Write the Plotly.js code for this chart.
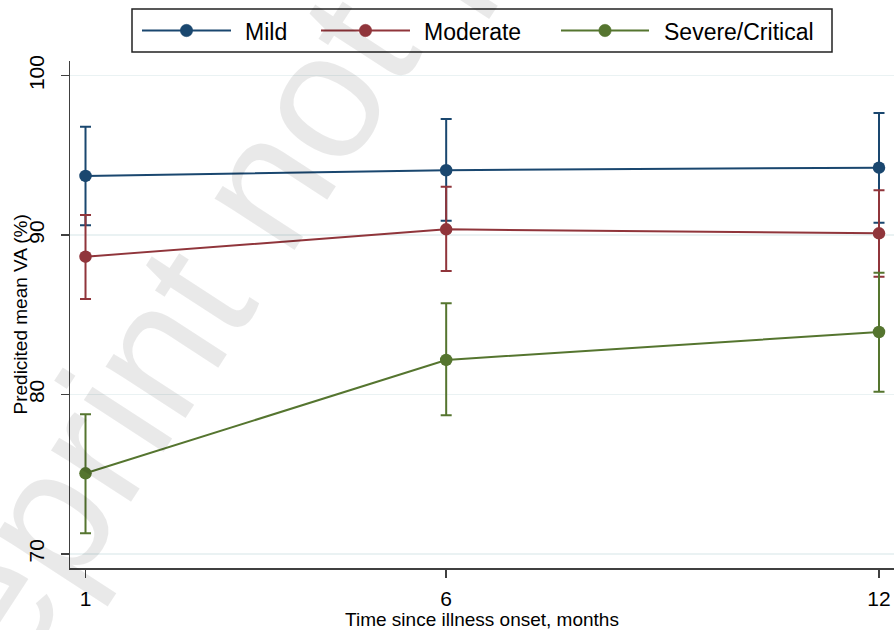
<!DOCTYPE html>
<html>
<head>
<meta charset="utf-8">
<script src="https://cdn.plot.ly/plotly-3.0.1.min.js"></script>
<style>html,body{margin:0;padding:0;background:#fff;}#chart{width:896px;height:630px;}</style>
</head>
<body>
<div id="chart"></div>
<script>
// ---- data ----
const months = [1, 6, 12];
const seriesNames = ["Mild", "Moderate", "Severe/Critical"];
const mildMean = [93.71, 94.07, 94.23];
const mildLower = [90.62, 90.90, 90.78];
const mildUpper = [96.80, 97.28, 97.66];
const moderateMean = [88.65, 90.36, 90.11];
const moderateLower = [85.99, 87.75, 87.39];
const moderateUpper = [91.26, 93.04, 92.81];
const severeMean = [75.06, 82.17, 83.92];
const severeLower = [71.30, 78.70, 80.18];
const severeUpper = [78.76, 85.72, 87.64];
const yTicks = [70, 80, 90, 100];
const xTickLabels = ["1", "6", "12"];
const xTitle = "Time since illness onset, months";
const yTitle = "Predicited mean VA (%)";

const colors = ["#1a476f", "#90353b", "#55752f"];
const FONT = "Liberation Sans, Arial, Helvetica, sans-serif";

const means = [mildMean, moderateMean, severeMean];
const lowers = [mildLower, moderateLower, severeLower];
const uppers = [mildUpper, moderateUpper, severeUpper];

const traces = seriesNames.map((name, i) => ({
  type: "scatter",
  mode: "lines+markers",
  name: name,
  x: months,
  y: means[i],
  line: {color: colors[i], width: 2},
  marker: {color: colors[i], size: 12.5, symbol: "circle"},
  error_y: {
    type: "data",
    symmetric: false,
    array: uppers[i].map((u, k) => u - means[i][k]),
    arrayminus: means[i].map((m, k) => m - lowers[i][k]),
    color: colors[i],
    thickness: 2,
    width: 5.5
  },
  showlegend: false,
  hoverinfo: "x+y"
}));

// plot area in pixels: x 70..894, y 61..568
const L = 70, R = 894, T = 61, B = 568;
const px2x = p => (p - L) / (R - L);
const px2y = p => (B - p) / (B - T);

const shapes = [];
const annotations = [];

// manual legend box (Stata style)
shapes.push({type: "rect", xref: "paper", yref: "paper",
  x0: px2x(132), x1: px2x(832), y0: px2y(52), y1: px2y(9),
  line: {color: "#222", width: 1.5}, fillcolor: "rgba(0,0,0,0)"});
const legLine = [[142, 231], [321, 410], [561, 649]];
const legText = [245, 424, 664];
const legY = 30.5, r = 6.2;
seriesNames.forEach((name, i) => {
  shapes.push({type: "line", xref: "paper", yref: "paper",
    x0: px2x(legLine[i][0]), x1: px2x(legLine[i][1]), y0: px2y(legY), y1: px2y(legY),
    line: {color: colors[i], width: 2}});
  const cx = (legLine[i][0] + legLine[i][1]) / 2;
  shapes.push({type: "circle", xref: "paper", yref: "paper",
    x0: px2x(cx - r), x1: px2x(cx + r), y0: px2y(legY + r), y1: px2y(legY - r),
    line: {color: colors[i], width: 0.5}, fillcolor: colors[i]});
  annotations.push({xref: "paper", yref: "paper", x: px2x(legText[i] - 2), y: px2y(31.5),
    xanchor: "left", yanchor: "middle", showarrow: false, text: name,
    font: {family: FONT, size: 23, color: "#000"}});
});

// y axis title
annotations.push({xref: "paper", yref: "paper", x: px2x(20), y: 0.5,
  xanchor: "center", yanchor: "middle", showarrow: false, textangle: -90,
  text: yTitle, font: {family: FONT, size: 19, color: "#000"}});

// watermark
annotations.push({xref: "paper", yref: "paper", x: px2x(439), y: px2y(-88),
  xanchor: "center", yanchor: "middle", showarrow: false, textangle: -57,
  text: "Preprint not peer reviewed", font: {family: FONT, size: 180, color: "rgba(0,0,0,0.085)"}});

const layout = {
  width: 896, height: 630,
  margin: {l: L, r: 896 - R, t: T, b: 630 - B, pad: 0},
  paper_bgcolor: "#ffffff",
  plot_bgcolor: "#ffffff",
  showlegend: false,
  font: {family: FONT, color: "#000"},
  xaxis: {
    type: "linear",
    range: [0.785, 12.208],
    tickvals: months,
    ticktext: xTickLabels,
    showgrid: false,
    zeroline: false,
    showline: true, linecolor: "#404040", linewidth: 1.5,
    ticks: "outside", ticklen: 8, tickwidth: 1.5, tickcolor: "#404040",
    tickfont: {family: FONT, size: 21, color: "#000"},
    ticklabelstandoff: 3,
    title: {text: xTitle, font: {family: FONT, size: 19, color: "#000"}, standoff: 0},
    automargin: false
  },
  yaxis: {
    range: [69.12, 100.92],
    tickvals: yTicks,
    ticktext: yTicks.map(String),
    tickangle: -90,
    showgrid: true, gridcolor: "#eaf2f3", gridwidth: 1.5,
    zeroline: false,
    showline: true, linecolor: "#404040", linewidth: 1.5,
    ticks: "outside", ticklen: 8, tickwidth: 1.5, tickcolor: "#404040",
    tickfont: {family: FONT, size: 21, color: "#000"},
    ticklabelstandoff: 8,
    automargin: false
  },
  shapes: shapes,
  annotations: annotations
};

Plotly.newPlot("chart", traces, layout, {displayModeBar: false, staticPlot: true});
</script>
</body>
</html>
